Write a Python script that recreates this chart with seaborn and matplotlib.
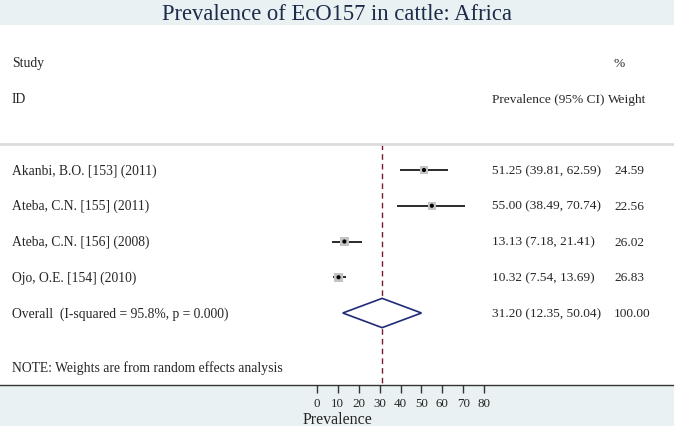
# Forest plot: prevalence of EcO157 in cattle (Africa)

import matplotlib
matplotlib.use('Agg')
import matplotlib.pyplot as plt
import seaborn as sns
import pandas as pd

estudos = ['Akanbi, B.O. [153] (2011)', 'Ateba, C.N. [155] (2011)',
           'Ateba, C.N. [156] (2008)', 'Ojo, O.E. [154] (2010)']
prev = [51.25, 55.00, 13.13, 10.32]
inf = [39.81, 38.49, 7.18, 7.54]
sup = [62.59, 70.74, 21.41, 13.69]
pesos = [24.59, 22.56, 26.02, 26.83]

geral_rotulo = 'Overall  (I-squared = 95.8%, p = 0.000)'
geral = 31.20
geral_inf = 12.35
geral_sup = 50.04
geral_peso = 100.00

ticks = [0, 10, 20, 30, 40, 50, 60, 70, 80]

df = pd.DataFrame({'estudo': estudos, 'prev': prev, 'inf': inf, 'sup': sup,
                   'peso': pesos, 'linha': range(len(estudos))})

sns.set_theme(style='white')
plt.rcParams['font.family'] = ['Liberation Serif', 'DejaVu Serif']

fundo = '#eaf1f3'
fig = plt.figure(figsize=(6.74, 4.27), dpi=100, facecolor=fundo)
ax = fig.add_axes([0, 41/427, 1, 360/427])
ax.set_facecolor('white')

# escala: 0 -> 317px, 80 -> 484px
esc = (484 - 317) / 80
ax.set_xlim(-317/esc, (674 - 317)/esc)
ax.set_ylim(6.014, -4.056)

# intervalos
ax.hlines(df['linha'], df['inf'], df['sup'], color='#2a2a2a', lw=1.4, zorder=2)
sns.scatterplot(data=df, x='prev', y='linha', marker='s', s=df['peso']*1.5,
                color='#c4c4c4', edgecolor='none', legend=False, ax=ax, zorder=3)
sns.scatterplot(data=df, x='prev', y='linha', marker='o', s=9,
                color='black', edgecolor='none', legend=False, ax=ax, zorder=4)

# diamante geral
yg = len(estudos)
ax.fill([geral_inf, geral, geral_sup, geral, geral_inf],
        [yg, yg - 0.41, yg, yg + 0.41, yg],
        facecolor='white', edgecolor='#1f2a7a', lw=1.2, zorder=3)

# linha tracejada do efeito geral
ax.vlines(geral, -0.73, 6.014, color='#7a1a28', lw=1, linestyles=(0, (4, 3)), zorder=1)

# separador
ax.axhline(-0.73, color='#dcdcdc', lw=2, zorder=1)

tr = ax.get_yaxis_transform()
fs = 9.8
fs2 = 9.6
xe = 12/674
ax.text(xe, -3, 'Study', transform=tr, va='center', fontsize=fs)
ax.text(xe, -2, 'ID', transform=tr, va='center', fontsize=fs)
ax.text(613/674, -3, '%', transform=tr, va='center', fontsize=fs2)
ax.text(492/674, -2, 'Prevalence (95% CI)', transform=tr, va='center', fontsize=fs2)
ax.text(608/674, -2, 'Weight', transform=tr, va='center', fontsize=fs2)

for i in range(df.shape[0]):
    ax.text(xe, i, df.estudo[i], transform=tr, va='center', fontsize=fs)
    ax.text(492/674, i, f'{df.prev[i]:.2f} ({df.inf[i]:.2f}, {df.sup[i]:.2f})',
            transform=tr, va='center', fontsize=fs2)
    ax.text(614/674, i, f'{df.peso[i]:.2f}', transform=tr, va='center', fontsize=fs2)

ax.text(xe, yg, geral_rotulo, transform=tr, va='center', fontsize=fs)
ax.text(492/674, yg, f'{geral:.2f} ({geral_inf:.2f}, {geral_sup:.2f})',
        transform=tr, va='center', fontsize=fs2)
ax.text(614/674, yg, f'{geral_peso:.2f}', transform=tr, va='center', fontsize=fs2)
ax.text(xe, 5.5, 'NOTE: Weights are from random effects analysis',
        transform=tr, va='center', fontsize=fs)

# eixo
for lado in ['top', 'left', 'right']:
    ax.spines[lado].set_visible(False)
ax.spines['bottom'].set_color('#333333')
ax.spines['bottom'].set_linewidth(1)
ax.set_yticks([])
ax.set_xticks(ticks)
ax.tick_params(axis='x', direction='out', length=6, width=1, color='#333333',
               pad=3, labelsize=9.4, bottom=True)
ax.set_xlabel('')
ax.set_ylabel('')

fig.text(337/674, 1 - 14/427, 'Prevalence of EcO157 in cattle: Africa',
         ha='center', va='center', fontsize=16.3, color='#1c2b4a')
fig.text(337/674, 7/427, 'Prevalence', ha='center', va='center', fontsize=11.5)

fig.savefig('out.png', dpi=100, facecolor=fundo)
